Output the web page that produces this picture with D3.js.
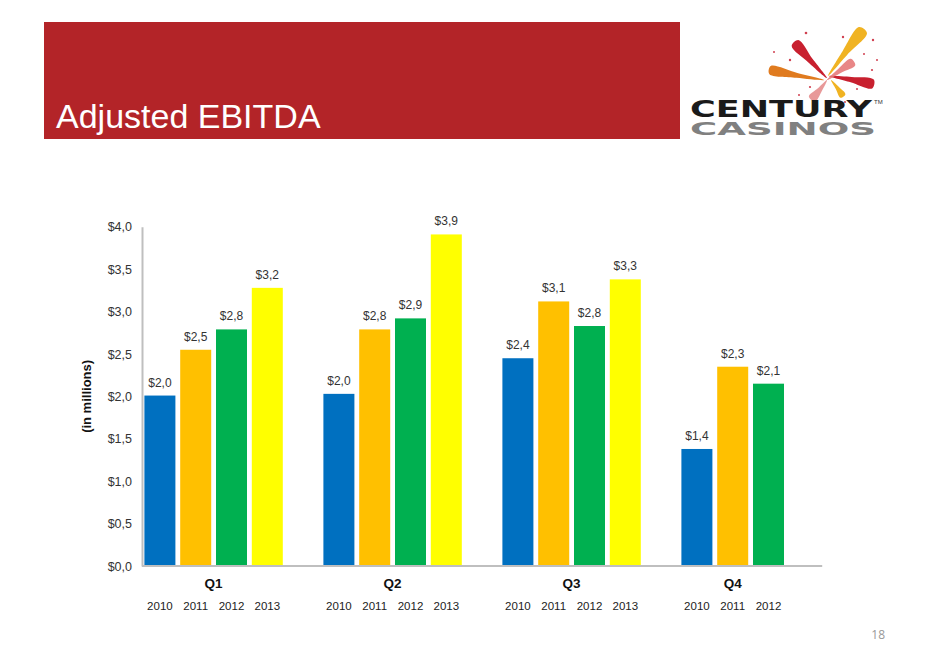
<!DOCTYPE html>
<html><head><meta charset="utf-8">
<script src="https://cdn.jsdelivr.net/npm/d3@7"></script>
<style>
html,body{margin:0;padding:0;background:#fff;}
svg{display:block;font-family:"Liberation Sans",Arial,sans-serif;}
</style></head>
<body><svg id="c" width="936" height="667"></svg>
<script>
// ---- data ----
const quarters = ["Q1","Q2","Q3","Q4"];
const years = ["2010","2011","2012","2013"];
const ebitda2010 = [2.01, 2.03, 2.45, 1.38];
const ebitda2011 = [2.55, 2.79, 3.12, 2.35];
const ebitda2012 = [2.79, 2.92, 2.83, 2.15];
const ebitda2013 = [3.28, 3.91, 3.38, null];
const labels2010 = ["$2,0","$2,0","$2,4","$1,4"];
const labels2011 = ["$2,5","$2,8","$3,1","$2,3"];
const labels2012 = ["$2,8","$2,9","$2,8","$2,1"];
const labels2013 = ["$3,2","$3,9","$3,3",null];
const yTicks = [0,0.5,1,1.5,2,2.5,3,3.5,4];
const yTickLabels = ["$0,0","$0,5","$1,0","$1,5","$2,0","$2,5","$3,0","$3,5","$4,0"];
const colors = ["#0070C0","#FFC000","#00B050","#FFFF00"];

const seriesVals = [ebitda2010, ebitda2011, ebitda2012, ebitda2013];
const seriesLabels = [labels2010, labels2011, labels2012, labels2013];
const rows = [];
quarters.forEach((q,qi)=>years.forEach((yr,yi)=>{
  const v = seriesVals[yi][qi];
  if (v!=null) rows.push({q, yr, yi, v, label: seriesLabels[yi][qi]});
}));

const svg = d3.select("#c");

// ---- header ----
svg.append("rect").attr("x",44).attr("y",22).attr("width",636).attr("height",117).attr("fill","#B32428");
svg.append("text").attr("x",56).attr("y",128).attr("fill","#fff")
  .attr("font-size",34).text("Adjusted EBITDA");

// ---- logo ----
const logo = svg.append("g");
function streak(x1,y1,x2,y2,w,color,op){
  const dx=x2-x1, dy=y2-y1, L=Math.hypot(dx,dy), nx=-dy/L, ny=dx/L;
  const p=[[x1+nx*w/2,y1+ny*w/2],[x1+dx*0.5+nx*w*0.35,y1+dy*0.5+ny*w*0.35],[x2,y2],
           [x1+dx*0.5-nx*w*0.25,y1+dy*0.5-ny*w*0.25],[x1-nx*w/2,y1-ny*w/2]];
  logo.append("path").attr("d",d3.line().curve(d3.curveCatmullRomClosed)(p)).attr("fill",color).attr("opacity",op||1);
}
streak(863,30,828,76,10,"#F0B323");
streak(795,43,827,78,9,"#C8202F");
streak(770,70,824,80,8,"#E07B1F");
streak(873,84,829,76,9,"#C8202F");
streak(853,62,827,80,8,"#E57A7A",0.9);
streak(812,99,827,80,8,"#E58E8E",0.9);
streak(843,96,831,80,6,"#F0B323");
[[806,33,1.3],[843,37,1.2],[873,40,1.2],[790,60,1.2],[864,54,1],[774,52,1],[872,70,1.1],[810,87,1.1],[857,89,1],[799,95,1],[845,102,1],[877,60,1]]
  .forEach(d=>logo.append("circle").attr("cx",d[0]).attr("cy",d[1]).attr("r",d[2]).attr("fill","#D04050"));
logo.append("text").attr("x",690).attr("y",117).attr("font-family","DejaVu Sans").attr("font-weight","bold")
  .attr("font-size",22.5).attr("textLength",182).attr("lengthAdjust","spacingAndGlyphs").attr("fill","#1a1a1a").text("CENTURY");
logo.append("text").attr("x",690).attr("y",135).attr("font-family","DejaVu Sans").attr("font-weight","bold")
  .attr("font-size",17.5).attr("textLength",186).attr("lengthAdjust","spacingAndGlyphs").attr("fill","#808080").text("CASINOS");
logo.append("text").attr("x",874).attr("y",104).attr("font-size",6).attr("fill","#333").text("TM");

// ---- chart ----
const left = 142, groupStep = 179;
const y = d3.scaleLinear().domain([0,4]).range([566,226.8]);
const x0 = d3.scaleBand().domain(quarters).range([left, left+groupStep*quarters.length]).padding(0);
const x1 = d3.scaleBand().domain(years).range([0, x0.bandwidth()*0.8]).paddingInner(0.134).paddingOuter(0.067);

// bars
svg.append("g").selectAll("rect").data(rows).join("rect")
  .attr("x",d=>x0(d.q)+x1(d.yr)).attr("width",x1.bandwidth())
  .attr("y",d=>y(d.v)).attr("height",d=>y(0)-y(d.v))
  .attr("fill",d=>colors[d.yi]);

// value labels
svg.append("g").selectAll("text").data(rows).join("text")
  .attr("x",d=>x0(d.q)+x1(d.yr)+x1.bandwidth()/2).attr("y",d=>y(d.v)-9)
  .attr("text-anchor","middle").attr("font-size",12).attr("fill","#333").text(d=>d.label);

// y axis
const yAxis = svg.append("g").attr("transform",`translate(${left},0)`)
  .call(d3.axisLeft(y).tickValues(yTicks).tickFormat((d,i)=>yTickLabels[i]).tickSize(0).tickPadding(10));
yAxis.select(".domain").attr("stroke","#BFBFBF").attr("stroke-width",2);
yAxis.selectAll("text").attr("font-size",12.5).attr("fill","#333").attr("font-family","Liberation Sans, Arial, sans-serif");

// x axis line
const xEnd = x0.range()[1] - x1.step();
svg.append("line").attr("x1",left).attr("x2",xEnd).attr("y1",y(0)).attr("y2",y(0))
  .attr("stroke","#BFBFBF").attr("stroke-width",2);

// quarter labels
quarters.forEach((q)=>{
  const rs = rows.filter(r=>r.q===q);
  const a = x0(q)+x1(rs[0].yr), b = x0(q)+x1(rs[rs.length-1].yr)+x1.bandwidth();
  svg.append("text").attr("x",(a+b)/2).attr("y",588).attr("text-anchor","middle")
    .attr("font-size",13.5).attr("font-weight","bold").attr("fill","#111").text(q);
});
// year labels
svg.append("g").selectAll("text").data(rows).join("text")
  .attr("x",d=>x0(d.q)+x1(d.yr)+x1.bandwidth()/2).attr("y",610)
  .attr("text-anchor","middle").attr("font-size",11.5).attr("fill","#222").text(d=>d.yr);

// y title
svg.append("text").attr("transform",`translate(91,${y(2)}) rotate(-90)`).attr("text-anchor","middle")
  .attr("font-size",13).attr("font-weight","bold").attr("fill","#111").text("(in millions)");

// page number
svg.append("text").attr("x",885).attr("y",639).attr("text-anchor","end").attr("font-size",12)
  .attr("fill","#999").attr("font-family","Open Sans, sans-serif").text("18");
</script></body></html>
